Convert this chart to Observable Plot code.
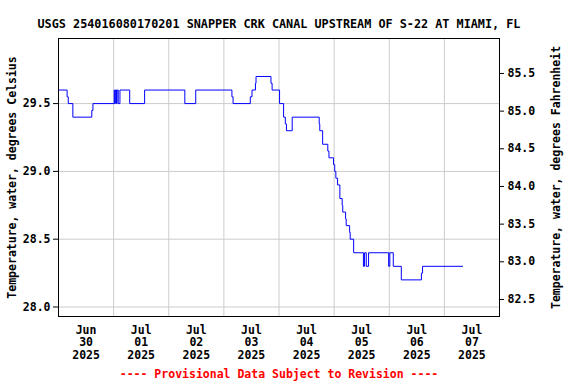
<!DOCTYPE html>
<html>
<head>
<meta charset="utf-8">
<script src="https://cdn.jsdelivr.net/npm/d3@7"></script>
<script src="https://cdn.jsdelivr.net/npm/@observablehq/plot@0.6"></script>
<style>
  html, body { margin: 0; padding: 0; background: white; }
</style>
</head>
<body>
<div id="chart"></div>
<script>
// ---- Data ----
const titleText = "USGS 254016080170201 SNAPPER CRK CANAL UPSTREAM OF S-22 AT MIAMI, FL";
const captionText = "---- Provisional Data Subject to Revision ----";
const leftLabel = "Temperature, water, degrees Celsius";
const rightLabel = "Temperature, water, degrees Fahrenheit";

const times = [
  "2025-06-30T00:00", "2025-06-30T03:45", "2025-06-30T04:15", "2025-06-30T06:15",
  "2025-06-30T14:30", "2025-06-30T15:00",
  "2025-07-01T00:15", "2025-07-01T00:30", "2025-07-01T00:45", "2025-07-01T01:15",
  "2025-07-01T01:30", "2025-07-01T02:00", "2025-07-01T02:45", "2025-07-01T07:00",
  "2025-07-01T13:30",
  "2025-07-02T07:00", "2025-07-02T11:45",
  "2025-07-03T03:30", "2025-07-03T04:00", "2025-07-03T11:30", "2025-07-03T12:15",
  "2025-07-03T13:45", "2025-07-03T14:00", "2025-07-03T20:30", "2025-07-03T21:00",
  "2025-07-04T00:15", "2025-07-04T02:00", "2025-07-04T02:45", "2025-07-04T03:15",
  "2025-07-04T05:45", "2025-07-04T17:30", "2025-07-04T17:45", "2025-07-04T19:00",
  "2025-07-04T21:15", "2025-07-04T21:45", "2025-07-04T23:45",
  "2025-07-05T00:15", "2025-07-05T00:45", "2025-07-05T01:30", "2025-07-05T02:30",
  "2025-07-05T03:30", "2025-07-05T03:45", "2025-07-05T05:00", "2025-07-05T05:15",
  "2025-07-05T06:45", "2025-07-05T07:00", "2025-07-05T08:30", "2025-07-05T12:45",
  "2025-07-05T13:15", "2025-07-05T14:00", "2025-07-05T15:00", "2025-07-05T23:45",
  "2025-07-06T00:15", "2025-07-06T01:45", "2025-07-06T05:15", "2025-07-06T14:00",
  "2025-07-06T14:30",
  "2025-07-07T08:00"
];
const temps = [
  29.6, 29.55, 29.5, 29.4,
  29.45, 29.5,
  29.6, 29.5, 29.6, 29.5,
  29.6, 29.5, 29.6, 29.5,
  29.6,
  29.5, 29.6,
  29.55, 29.5, 29.55, 29.6,
  29.65, 29.7, 29.65, 29.6,
  29.5, 29.4, 29.35, 29.3,
  29.4, 29.35, 29.3, 29.2,
  29.15, 29.1, 29.05,
  29.0, 28.95, 28.9, 28.8,
  28.75, 28.7, 28.65, 28.6,
  28.55, 28.5, 28.4, 28.3,
  28.4, 28.3, 28.4, 28.3,
  28.4, 28.3, 28.2, 28.25,
  28.3,
  28.3
];

const celsiusTicks = [28.0, 28.5, 29.0, 29.5];
const fahrenheitTicks = [82.5, 83.0, 83.5, 84.0, 84.5, 85.0, 85.5];
const dayLabelDates = ["2025-06-30", "2025-07-01", "2025-07-02", "2025-07-03",
                       "2025-07-04", "2025-07-05", "2025-07-06", "2025-07-07"];
const gridDates = ["2025-07-01", "2025-07-02", "2025-07-03", "2025-07-04",
                   "2025-07-05", "2025-07-06", "2025-07-07"];
const xStart = "2025-06-30T00:00";
const xEnd = "2025-07-08T00:00";
const yDomain = [27.93, 29.98];

// ---- Build ----
const data = times.map((t, i) => ({date: new Date(t), temp: temps[i]}));
const noonTicks = dayLabelDates.map(d => new Date(d + "T12:00"));
const midnightGrid = gridDates.map(d => new Date(d + "T00:00"));
const toC = f => (f - 32) * 5 / 9;
const toF = c => c * 9 / 5 + 32;
const monthNames = ["Jan","Feb","Mar","Apr","May","Jun","Jul","Aug","Sep","Oct","Nov","Dec"];
const fmtDay = d => `${monthNames[d.getMonth()]}\n${String(d.getDate()).padStart(2, "0")}\n${d.getFullYear()}`;

const FONT = "'DejaVu Sans Mono', 'Liberation Mono', monospace";

const chart = Plot.plot({
  width: 576,
  height: 384,
  marginLeft: 58,
  marginRight: 77,
  marginTop: 38,
  marginBottom: 68,
  style: {fontFamily: FONT, fontSize: "11.5px", fontWeight: "bold", background: "white", color: "black"},
  x: {type: "time", domain: [new Date(xStart), new Date(xEnd)]},
  y: {domain: yDomain},
  marks: [
    Plot.ruleX(midnightGrid, {stroke: "#cccccc", strokeWidth: 1}),
    Plot.gridY(celsiusTicks, {stroke: "#cccccc", strokeOpacity: 1, strokeWidth: 1}),
    Plot.lineY(data, {x: "date", y: "temp", curve: "step-after", stroke: "#0000ff", strokeWidth: 1}),
    Plot.frame({stroke: "black", strokeWidth: 1}),
    Plot.axisY(celsiusTicks, {anchor: "left", tickSize: 5, tickPadding: 3, tickFormat: d => d.toFixed(1),
      label: leftLabel, labelAnchor: "center", labelOffset: 51, labelArrow: "none"}),
    Plot.axisY(fahrenheitTicks.map(toC), {anchor: "right", tickSize: 4, tickPadding: 4, tickFormat: c => toF(c).toFixed(1),
      label: rightLabel, labelAnchor: "center", labelOffset: 60, labelArrow: "none"}),
    Plot.axisX(noonTicks, {anchor: "bottom", tickSize: 0, tickPadding: 8, tickFormat: fmtDay, lineHeight: 1.11, label: null}),
    Plot.text([titleText], {frameAnchor: "top", text: d => d, dy: -19, fontSize: 11.8}),
    Plot.text([captionText], {frameAnchor: "bottom", text: d => d, dy: 61, fill: "#ff0000", fontSize: 11.5})
  ]
});
document.getElementById("chart").appendChild(chart);
</script>
</body>
</html>
